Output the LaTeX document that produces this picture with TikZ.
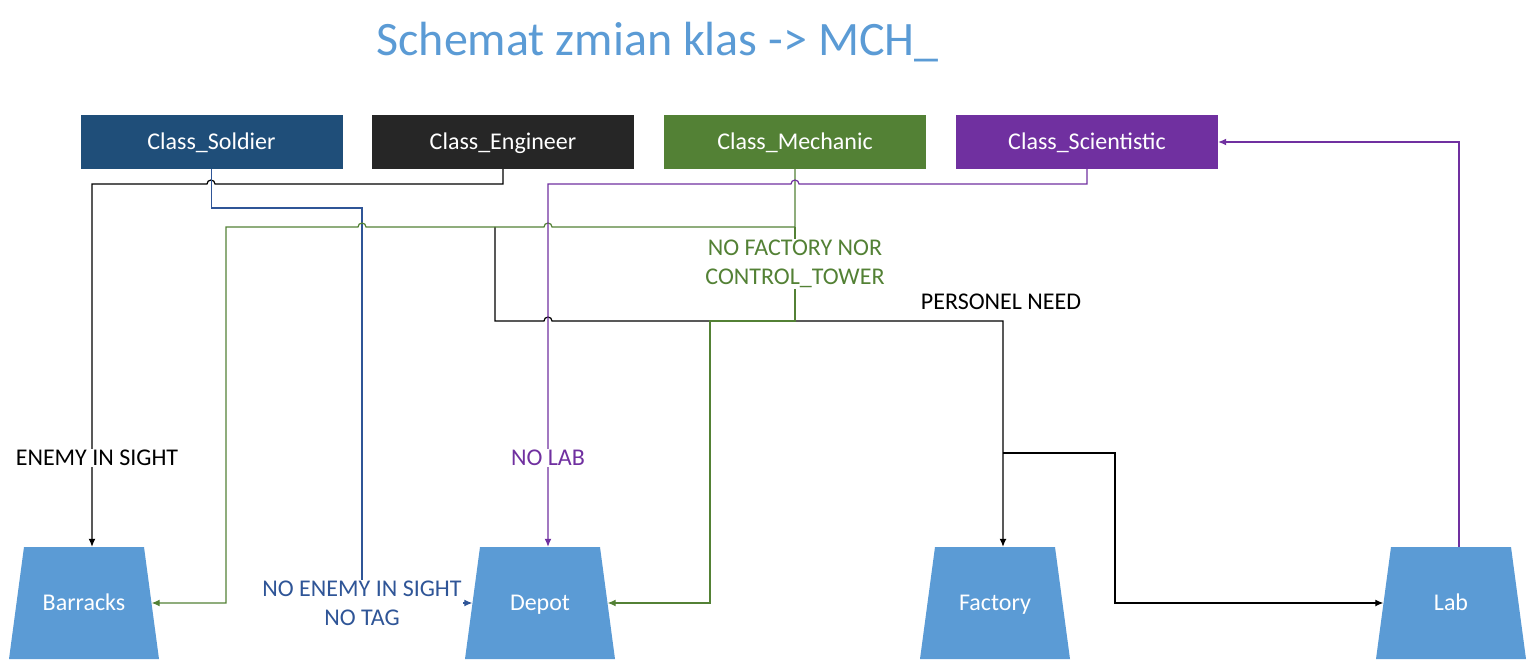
\documentclass[tikz,border=0pt]{standalone}
\usepackage{fontspec}
\setmainfont{Carlito}
\usetikzlibrary{arrows.meta}
\definecolor{soldierblue}{HTML}{1F4E79}
\definecolor{engineergray}{HTML}{262626}
\definecolor{mechanicgreen}{HTML}{538135}
\definecolor{scientistpurple}{HTML}{7030A0}
\definecolor{buildingblue}{HTML}{5B9BD5}
\definecolor{tagblue}{HTML}{2F5597}

\begin{document}
\begin{tikzpicture}[x=1pt,y=-1pt]
	\tikzset{klasa/.style={fill=#1, text=white, minimum width=262pt, minimum height=54pt, inner sep=0pt, text height=15.5pt, text depth=0pt, font=\fontsize{24}{29}\selectfont},
		budynek/.style={text=white, minimum width=150pt, minimum height=112pt, inner sep=0pt, text height=15.5pt, text depth=0pt, font=\fontsize{24}{29}\selectfont,
			path picture={\fill[buildingblue] (path picture bounding box.south west) -- (path picture bounding box.south east) -- ([xshift=-15pt]path picture bounding box.north east) -- ([xshift=15pt]path picture bounding box.north west) -- cycle;}},
		warunek/.style={fill=white, text=#1, inner sep=1pt, align=center, font=\fontsize{24}{29}\selectfont},
		polaczenie/.style={draw=#1, line width=1.2pt, -{Latex[length=8pt,width=7pt]}}}

	\useasboundingbox (0,0) rectangle (1534,668);

	\node[text=buildingblue, font=\fontsize{48}{58}\selectfont, anchor=base] (tytul) at (657.5,56) {Schemat zmian klas -> MCH\_};

	\node[klasa=soldierblue] (soldier) at (211.5,142) {Class\_Soldier};
	\node[klasa=engineergray] (engineer) at (503,142) {Class\_Engineer};
	\node[klasa=mechanicgreen] (mechanic) at (795,142) {Class\_Mechanic};
	\node[klasa=scientistpurple] (scientistic) at (1087,142) {Class\_Scientistic};

	\node[budynek] (barracks) at (84,603) {Barracks};
	\node[budynek] (depot) at (540,603) {Depot};
	\node[budynek] (factory) at (995,603) {Factory};
	\node[budynek] (lab) at (1451,603) {Lab};

	\coordinate (mechrozgal) at (795,227);
	\coordinate (personel) at (495,227);
	\coordinate (fabrozgal) at (1003,453);

	\draw[polaczenie=black] (personel) |- (544,321) arc[start angle=180,end angle=360,radius=4] -| ([xshift=8pt]factory.north);
	\draw[polaczenie=black] (fabrozgal) -- (1115,453) |- ([xshift=7.5pt]lab.west);

	\draw[polaczenie=black] (engineer.south) |- (215,184) arc[start angle=0,end angle=-180,radius=4] -| ([xshift=8pt]barracks.north);
	\draw[polaczenie=tagblue] (soldier.south) |- (362,208) |- ([xshift=7.5pt]depot.west);
	\draw[polaczenie=mechanicgreen] (mechanic.south) |- (552,227) arc[start angle=0,end angle=-180,radius=4] -- (366,227) arc[start angle=0,end angle=-180,radius=4] -- (226,227) |- ([xshift=-7.5pt]barracks.east);
	\draw[polaczenie=mechanicgreen] (mechrozgal) |- (710,321) |- ([xshift=-7.5pt]depot.east);
	\draw[polaczenie=scientistpurple] (scientistic.south) |- (799,184) arc[start angle=0,end angle=-180,radius=4] -| ([xshift=8pt]depot.north);
	\draw[polaczenie=scientistpurple] ([xshift=8pt]lab.north) |- (scientistic.east);

	\node[warunek=black] (wrog) at (97,458) {ENEMY IN SIGHT};
	\node[warunek=tagblue] (brakwroga) at (362,603) {NO ENEMY IN SIGHT\\NO TAG};
	\node[warunek=scientistpurple] (brakla) at (548,458) {NO LAB};
	\node[warunek=mechanicgreen] (brakfab) at (795,264) {NO FACTORY NOR\\CONTROL\_TOWER};
	\node[text=black, font=\fontsize{24}{29}\selectfont] (potrzeba) at (1001,302) {PERSONEL NEED};
\end{tikzpicture}
\end{document}
